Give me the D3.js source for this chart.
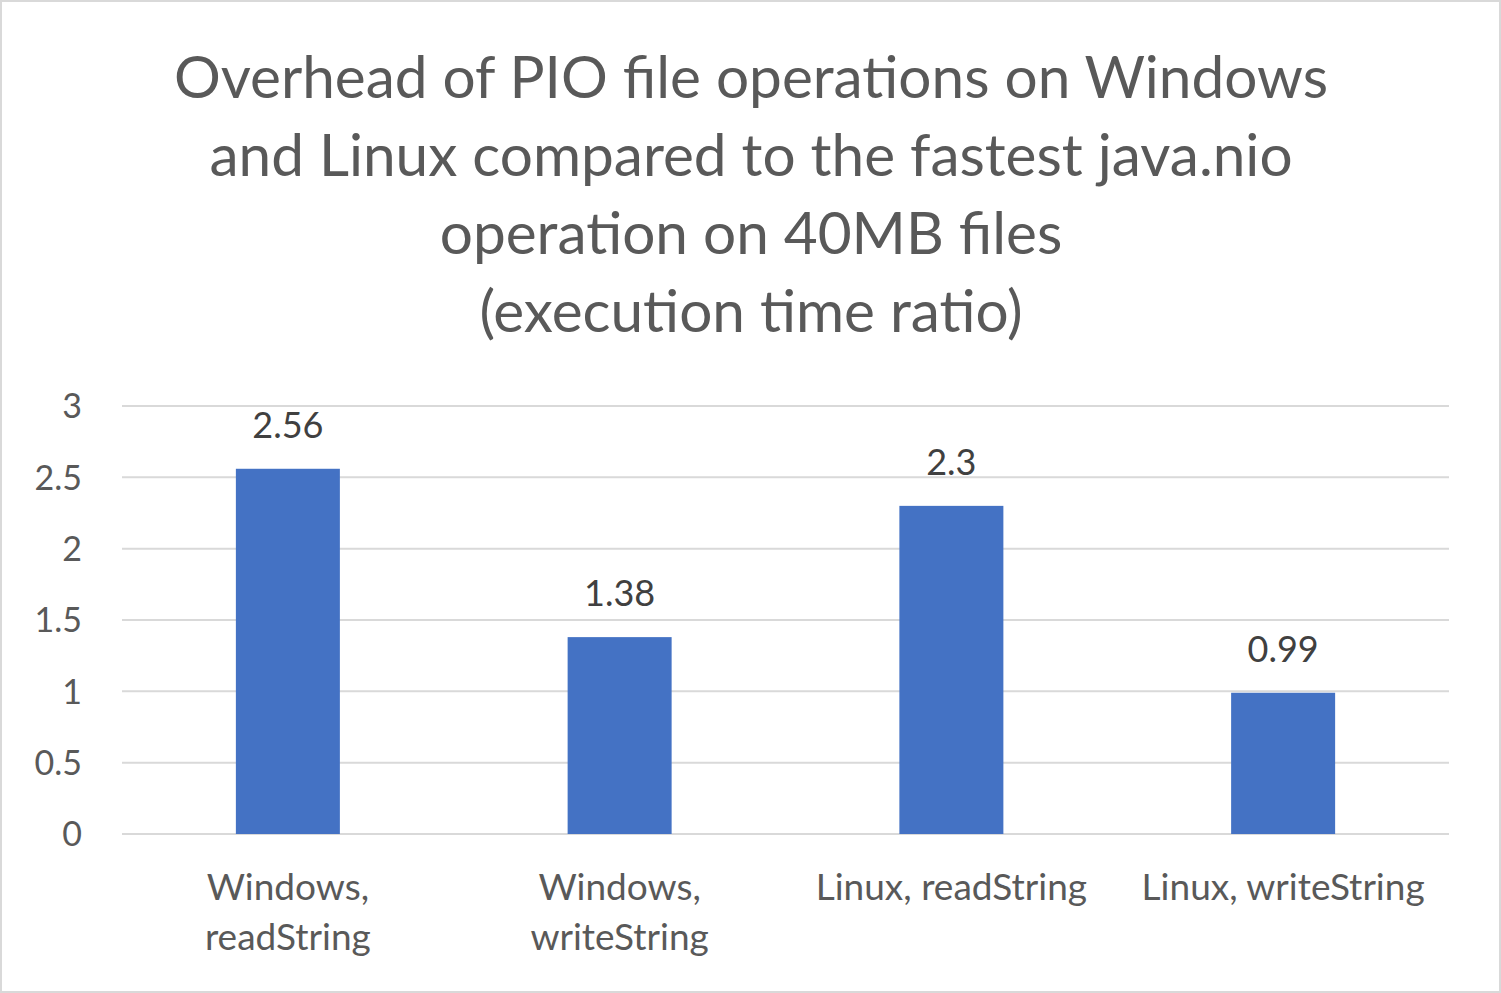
<!DOCTYPE html>
<html><head><meta charset="utf-8">
<script src="https://cdn.jsdelivr.net/npm/d3@7"></script>
<style>body{margin:0;background:#fff}svg{display:block}</style>
</head><body>
<script>
const titleLines = ["Overhead of PIO file operations on Windows","and Linux compared to the fastest java.nio","operation on 40MB files","(execution time ratio)"];
const categories = [["Windows,","readString"],["Windows,","writeString"],["Linux, readString"],["Linux, writeString"]];
const values = [2.56, 1.38, 2.3, 0.99];
const yTicks = [0, 0.5, 1, 1.5, 2, 2.5, 3];

const W = 1501, H = 993;
const font = "Lato, 'Open Sans', sans-serif";
const svg = d3.select("body").append("svg").attr("width", W).attr("height", H);
svg.append("rect").attr("x",1).attr("y",1).attr("width",W-2).attr("height",H-2)
  .attr("fill","#fff").attr("stroke","#d9d9d9").attr("stroke-width",2);

const tg = svg.append("g").attr("font-family", font).attr("fill","#595959").attr("font-size",58.5).attr("text-anchor","middle");
titleLines.forEach((t,i)=> tg.append("text").attr("x",751).attr("y",98+i*78).text(t));

const x = d3.scaleBand().domain(d3.range(categories.length)).range([122,1449]);
const y = d3.scaleLinear().domain([0,3]).range([834,406]);

const grid = svg.append("g");
grid.selectAll("line").data(yTicks).join("line")
  .attr("x1",122).attr("x2",1449).attr("y1",d=>y(d)).attr("y2",d=>y(d))
  .attr("stroke","#d9d9d9").attr("stroke-width",2);

const yl = svg.append("g").attr("font-family",font).attr("font-size",34).attr("fill","#595959").attr("text-anchor","end");
yl.selectAll("text").data(yTicks).join("text")
  .attr("x",82).attr("y",d=>y(d)).attr("dy","0.36em").text(d=>d);

const bw = 104;
svg.append("g").selectAll("rect").data(values).join("rect")
  .attr("x",(d,i)=>x(i)+x.bandwidth()/2-bw/2).attr("width",bw)
  .attr("y",d=>y(d)).attr("height",d=>y(0)-y(d)).attr("fill","#4472c4");

svg.append("g").attr("font-family",font).attr("font-size",36).attr("fill","#404040").attr("text-anchor","middle")
  .selectAll("text").data(values).join("text")
  .attr("x",(d,i)=>x(i)+x.bandwidth()/2).attr("y",d=>y(d)-31).text(d=>d);

const xl = svg.append("g").attr("font-family",font).attr("font-size",37).attr("fill","#595959").attr("text-anchor","middle");
categories.forEach((lines,i)=>{
  lines.forEach((l,j)=> xl.append("text").attr("x",x(i)+x.bandwidth()/2).attr("y",900+j*50).text(l));
});
</script>
</body></html>
